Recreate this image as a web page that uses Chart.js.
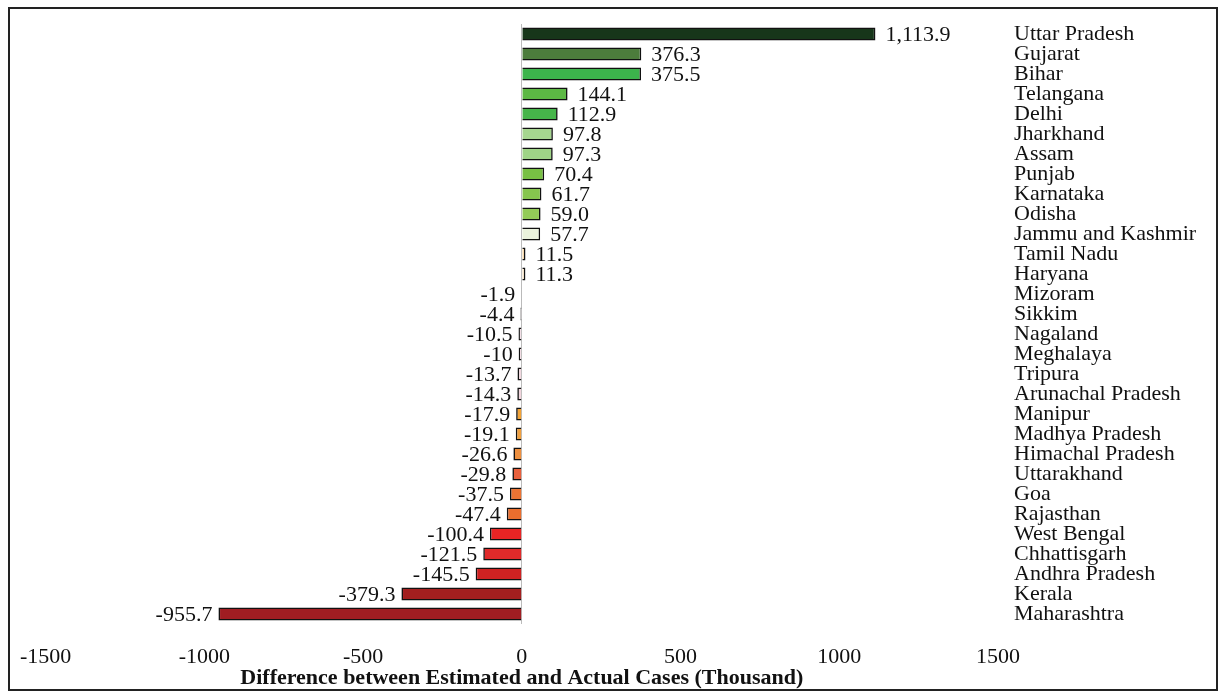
<!DOCTYPE html>
<html><head><meta charset="utf-8">
<script src="https://cdn.jsdelivr.net/npm/chart.js@4"></script>
<style>
body{margin:0;background:#fff}
#wrap{position:absolute;left:0;top:0;width:1219px;height:692px}
#frame{position:absolute;left:8px;top:7px;width:1206px;height:680px;border:2px solid #222;pointer-events:none}
</style></head><body>
<div id="wrap"><canvas id="c" width="1219" height="692"></canvas></div>
<div id="frame"></div>
<script>
var states = ["Uttar Pradesh","Gujarat","Bihar","Telangana","Delhi","Jharkhand","Assam","Punjab","Karnataka","Odisha","Jammu and Kashmir","Tamil Nadu","Haryana","Mizoram","Sikkim","Nagaland","Meghalaya","Tripura","Arunachal Pradesh","Manipur","Madhya Pradesh","Himachal Pradesh","Uttarakhand","Goa","Rajasthan","West Bengal","Chhattisgarh","Andhra Pradesh","Kerala","Maharashtra"];
var diffs = [1113.9,376.3,375.5,144.1,112.9,97.8,97.3,70.4,61.7,59.0,57.7,11.5,11.3,-1.9,-4.4,-10.5,-10,-13.7,-14.3,-17.9,-19.1,-26.6,-29.8,-37.5,-47.4,-100.4,-121.5,-145.5,-379.3,-955.7];
var valueLabels = ["1,113.9","376.3","375.5","144.1","112.9","97.8","97.3","70.4","61.7","59.0","57.7","11.5","11.3","-1.9","-4.4","-10.5","-10","-13.7","-14.3","-17.9","-19.1","-26.6","-29.8","-37.5","-47.4","-100.4","-121.5","-145.5","-379.3","-955.7"];
var colors = ["#17361a","#4c7c3c","#3cb44c","#5cb844","#46b54a","#a6d690","#9fd487","#78c044","#86c54e","#93cb58","#eaf2dc","#f7d7a6","#f3e1c4","#f6e6ea","#f4e4ea","#f2dfe6","#f2dde4","#f0d8df","#f0d4dc","#f2a338","#f0a040","#ee9040","#e8603c","#ec7434","#ea6e2e","#e82424","#e02a2a","#cf2222","#a31f1f","#a01d22"];

var valuePlugin = {
  id: 'vals',
  afterDatasetsDraw: function(chart){
    var ctx = chart.ctx, meta = chart.getDatasetMeta(0);
    ctx.save();
    ctx.font = '22px "Liberation Serif", "DejaVu Serif", serif';
    ctx.fillStyle = '#111';
    ctx.textBaseline = 'middle';
    meta.data.forEach(function(bar, i){
      if (diffs[i] >= 0) { ctx.textAlign = 'left'; ctx.fillText(valueLabels[i], bar.x + 10, bar.y + 1); }
      else { ctx.textAlign = 'right'; ctx.fillText(valueLabels[i], bar.x - 6, bar.y + 1); }
    });
    ctx.restore();
  }
};

new Chart(document.getElementById("c"), {
  type: 'bar',
  data: {
    labels: states,
    datasets: [{
      data: diffs,
      backgroundColor: colors,
      borderColor: "#111",
      borderWidth: 1.6,
      barPercentage: 0.65,
      categoryPercentage: 1
    }]
  },
  options: {
    indexAxis: 'y',
    responsive: false,
    animation: false,
    layout: { padding: { left: 42, right: 0, top: 24, bottom: 0 } },
    plugins: { legend: { display: false }, tooltip: { enabled: false } },
    scales: {
      x: {
        min: -1500, max: 1500,
        border: { display: false },
        afterFit: function(s){ s.height = 68; },
        grid: { drawTicks: false, color: function(c){ return c.tick && c.tick.value === 0 ? '#bbb' : 'transparent'; } },
        ticks: { stepSize: 500, padding: 20, color: '#111', callback: function(v){ return String(v); },
                 font: { family: '"Liberation Serif", serif', size: 22 } },
        title: { display: true, text: 'Difference between Estimated and Actual Cases (Thousand)', color: '#111', padding: 0,
                 font: { family: '"Liberation Serif", serif', size: 22, weight: 'bold' } }
      },
      y: {
        position: 'right',
        border: { display: false },
        grid: { display: false },
        afterFit: function(s){ s.width = 221; },
        ticks: { padding: 8, color: '#111', autoSkip: false, font: { family: '"Liberation Serif", serif', size: 22 } }
      }
    }
  },
  plugins: [valuePlugin]
});
</script>
</body></html>
